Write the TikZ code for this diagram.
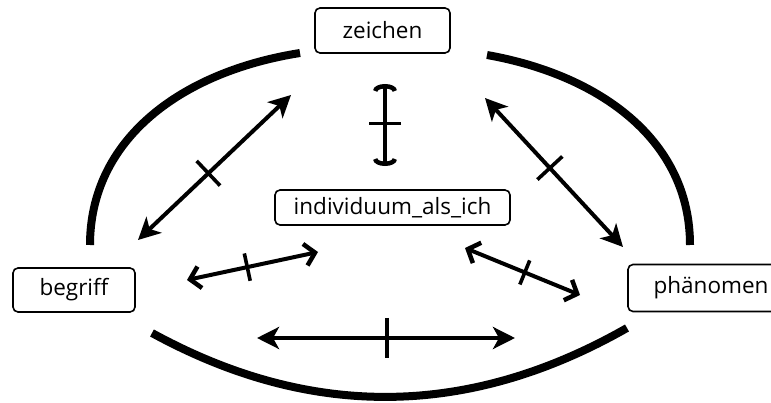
\documentclass[tikz,border=0pt]{standalone}
\usepackage{fontspec}
\setmainfont{Open Sans}
\usetikzlibrary{arrows.meta,calc}
\tikzset{
  box/.style={draw, line width=1.6pt, rounded corners=5pt, inner sep=0pt,
    font=\fontsize{22.5}{26}\selectfont},
  bigarc/.style={line width=8pt},
  link/.style={line width=4pt},
  tickline/.style={line width=3.6pt},
  fat/.style={{Stealth[length=22pt,width=22pt,inset=6pt]}-{Stealth[length=22pt,width=22pt,inset=6pt]}},
  barb/.style={{Straight Barb[length=10pt,width=22pt,line width=4.5pt]}-{Straight Barb[length=10pt,width=22pt,line width=4.5pt]}},
  hook/.style={{Arc Barb[length=7pt,width=24pt,line width=4.5pt]}-{Arc Barb[length=7pt,width=24pt,line width=4.5pt]}}
}
\begin{document}
\begin{tikzpicture}[x=1pt,y=-1pt]
\useasboundingbox (0,0) rectangle (771,403);
\begin{scope}
\clip (0,0) rectangle (771,403);
% nodes
\node[box, minimum width=135pt, minimum height=45pt] (zeichen) at (382.5,30.5) {zeichen};
\node[box, minimum width=235pt, minimum height=35pt] (ich) at (392.5,207.5) {individuum\_als\_ich};
\node[box, minimum width=122pt, minimum height=44pt] (begriff) at (74,290) {begriff};
\node[box, minimum width=166pt, minimum height=47pt] (phaen) at (711,288) {phänomen};

% outer arcs
\coordinate (la1) at (90,245); \coordinate (la2) at (300,53);
\draw[bigarc] (la1) .. controls (90,140) and (180,72) .. (la2);
\coordinate (ra1) at (487,55); \coordinate (ra2) at (690,245);
\draw[bigarc] (ra1) .. controls (600,75) and (690,140) .. (ra2);
\coordinate (ba1) at (152,333); \coordinate (ba2) at (627,328);
\draw[bigarc] (ba1) .. controls (311,420) and (469,418) .. (ba2);

% left diagonal
\coordinate (d1a) at (138,240); \coordinate (d1b) at (291,95);
\draw[link, fat] (d1a) -- (d1b);
\coordinate (t1) at ($(d1a)!0.46!(d1b)$);
\draw[tickline] ($(t1)!17pt!90:(d1b)$) -- ($(t1)!17pt!-90:(d1b)$);

% right diagonal
\coordinate (d2a) at (485,98); \coordinate (d2b) at (623,247);
\draw[link, fat] (d2a) -- (d2b);
\coordinate (t2) at ($(d2a)!0.47!(d2b)$);
\draw[tickline] ($(t2)!17pt!90:(d2b)$) -- ($(t2)!17pt!-90:(d2b)$);

% vertical
\coordinate (va) at (385,84); \coordinate (vb) at (385,166);
\draw[link, hook] (va) -- (vb);
\coordinate (t3) at ($(va)!0.48!(vb)$);
\draw[tickline] ($(t3)!16pt!90:(vb)$) -- ($(t3)!16pt!-90:(vb)$);

% lower left short
\coordinate (sa) at (187,280); \coordinate (sb) at (318,252);
\draw[link, barb] (sa) -- (sb);
\coordinate (t4) at ($(sa)!0.46!(sb)$);
\draw[tickline] ($(t4)!14pt!90:(sb)$) -- ($(t4)!14pt!-90:(sb)$);

% lower right short
\coordinate (ra) at (465,248); \coordinate (rb) at (580,295);
\draw[link, barb] (ra) -- (rb);
\coordinate (t5) at ($(ra)!0.52!(rb)$);
\draw[tickline] ($(t5)!13pt!90:(rb)$) -- ($(t5)!13pt!-90:(rb)$);

% bottom horizontal
\coordinate (ha) at (257,338); \coordinate (hb) at (515,338);
\draw[link, fat] (ha) -- (hb);
\coordinate (t6) at ($(ha)!0.505!(hb)$);
\draw[tickline] ($(t6)!20pt!90:(hb)$) -- ($(t6)!20pt!-90:(hb)$);
\end{scope}
\end{tikzpicture}
\end{document}
